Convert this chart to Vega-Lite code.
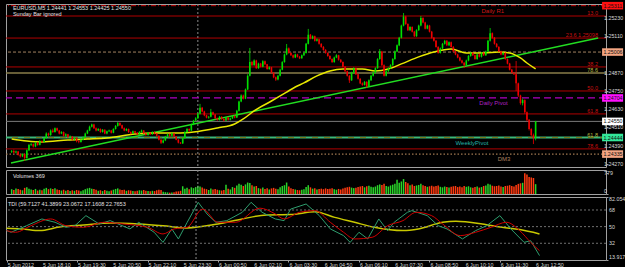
{
"$schema":"https://vega.github.io/schema/vega-lite/v6.json",
"background":"#000000",
"padding":{"left":3,"top":1,"right":0,"bottom":0},
"spacing":1,
"config":{"view":{"stroke":"#a0a0a0","strokeWidth":1},"font":"Liberation Sans","text":{"font":"Liberation Sans","fontSize":5.5}},
"datasets":{
"bars":[
{"i":0,"o":1.24350,"h":1.24362,"l":1.24342,"c":1.24355,"v":180},
{"i":1,"o":1.24355,"h":1.24365,"l":1.24338,"c":1.24345,"v":150},
{"i":2,"o":1.24345,"h":1.24358,"l":1.24340,"c":1.24352,"v":210},
{"i":3,"o":1.24352,"h":1.24356,"l":1.24325,"c":1.24330,"v":190},
{"i":4,"o":1.24330,"h":1.24336,"l":1.24312,"c":1.24320,"v":160},
{"i":5,"o":1.24320,"h":1.24340,"l":1.24315,"c":1.24335,"v":140},
{"i":6,"o":1.24335,"h":1.24338,"l":1.24290,"c":1.24310,"v":230},
{"i":7,"o":1.24310,"h":1.24366,"l":1.24305,"c":1.24360,"v":250},
{"i":8,"o":1.24360,"h":1.24402,"l":1.24355,"c":1.24395,"v":200},
{"i":9,"o":1.24395,"h":1.24410,"l":1.24388,"c":1.24400,"v":170},
{"i":10,"o":1.24400,"h":1.24405,"l":1.24378,"c":1.24385,"v":150},
{"i":11,"o":1.24385,"h":1.24416,"l":1.24380,"c":1.24410,"v":190},
{"i":12,"o":1.24410,"h":1.24415,"l":1.24390,"c":1.24395,"v":130},
{"i":13,"o":1.24395,"h":1.24428,"l":1.24392,"c":1.24420,"v":160},
{"i":14,"o":1.24420,"h":1.24426,"l":1.24408,"c":1.24415,"v":140},
{"i":15,"o":1.24415,"h":1.24446,"l":1.24410,"c":1.24440,"v":200},
{"i":16,"o":1.24440,"h":1.24478,"l":1.24436,"c":1.24470,"v":230},
{"i":17,"o":1.24470,"h":1.24476,"l":1.24452,"c":1.24460,"v":180},
{"i":18,"o":1.24460,"h":1.24497,"l":1.24455,"c":1.24490,"v":210},
{"i":19,"o":1.24490,"h":1.24502,"l":1.24474,"c":1.24480,"v":190},
{"i":20,"o":1.24480,"h":1.24510,"l":1.24476,"c":1.24505,"v":220},
{"i":21,"o":1.24505,"h":1.24509,"l":1.24484,"c":1.24490,"v":170},
{"i":22,"o":1.24490,"h":1.24494,"l":1.24464,"c":1.24470,"v":150},
{"i":23,"o":1.24470,"h":1.24486,"l":1.24466,"c":1.24480,"v":130},
{"i":24,"o":1.24480,"h":1.24484,"l":1.24450,"c":1.24455,"v":160},
{"i":25,"o":1.24455,"h":1.24472,"l":1.24450,"c":1.24465,"v":120},
{"i":26,"o":1.24465,"h":1.24468,"l":1.24440,"c":1.24445,"v":150},
{"i":27,"o":1.24445,"h":1.24458,"l":1.24438,"c":1.24450,"v":110},
{"i":28,"o":1.24450,"h":1.24454,"l":1.24424,"c":1.24430,"v":140},
{"i":29,"o":1.24430,"h":1.24446,"l":1.24426,"c":1.24440,"v":120},
{"i":30,"o":1.24440,"h":1.24444,"l":1.24412,"c":1.24420,"v":150},
{"i":31,"o":1.24420,"h":1.24425,"l":1.24406,"c":1.24415,"v":130},
{"i":32,"o":1.24415,"h":1.24436,"l":1.24410,"c":1.24430,"v":100},
{"i":33,"o":1.24430,"h":1.24450,"l":1.24426,"c":1.24445,"v":140},
{"i":34,"o":1.24445,"h":1.24476,"l":1.24440,"c":1.24470,"v":180},
{"i":35,"o":1.24470,"h":1.24495,"l":1.24466,"c":1.24490,"v":210},
{"i":36,"o":1.24490,"h":1.24522,"l":1.24486,"c":1.24515,"v":230},
{"i":37,"o":1.24515,"h":1.24535,"l":1.24510,"c":1.24530,"v":200},
{"i":38,"o":1.24530,"h":1.24534,"l":1.24500,"c":1.24505,"v":190},
{"i":39,"o":1.24505,"h":1.24510,"l":1.24484,"c":1.24490,"v":160},
{"i":40,"o":1.24490,"h":1.24506,"l":1.24486,"c":1.24500,"v":120},
{"i":41,"o":1.24500,"h":1.24504,"l":1.24474,"c":1.24480,"v":140},
{"i":42,"o":1.24480,"h":1.24500,"l":1.24476,"c":1.24495,"v":110},
{"i":43,"o":1.24495,"h":1.24498,"l":1.24466,"c":1.24470,"v":150},
{"i":44,"o":1.24470,"h":1.24490,"l":1.24465,"c":1.24485,"v":120},
{"i":45,"o":1.24485,"h":1.24496,"l":1.24480,"c":1.24490,"v":100},
{"i":46,"o":1.24490,"h":1.24494,"l":1.24470,"c":1.24475,"v":130},
{"i":47,"o":1.24475,"h":1.24505,"l":1.24472,"c":1.24500,"v":160},
{"i":48,"o":1.24500,"h":1.24526,"l":1.24496,"c":1.24520,"v":190},
{"i":49,"o":1.24520,"h":1.24546,"l":1.24515,"c":1.24540,"v":210},
{"i":50,"o":1.24540,"h":1.24544,"l":1.24520,"c":1.24525,"v":170},
{"i":51,"o":1.24525,"h":1.24528,"l":1.24500,"c":1.24505,"v":150},
{"i":52,"o":1.24505,"h":1.24510,"l":1.24485,"c":1.24490,"v":160},
{"i":53,"o":1.24490,"h":1.24505,"l":1.24486,"c":1.24500,"v":120},
{"i":54,"o":1.24500,"h":1.24503,"l":1.24474,"c":1.24480,"v":140},
{"i":55,"o":1.24480,"h":1.24484,"l":1.24465,"c":1.24470,"v":130},
{"i":56,"o":1.24470,"h":1.24490,"l":1.24466,"c":1.24485,"v":110},
{"i":57,"o":1.24485,"h":1.24488,"l":1.24470,"c":1.24475,"v":100},
{"i":58,"o":1.24475,"h":1.24480,"l":1.24460,"c":1.24465,"v":120},
{"i":59,"o":1.24465,"h":1.24486,"l":1.24462,"c":1.24480,"v":140},
{"i":60,"o":1.24480,"h":1.24496,"l":1.24476,"c":1.24490,"v":130},
{"i":61,"o":1.24490,"h":1.24493,"l":1.24466,"c":1.24470,"v":150},
{"i":62,"o":1.24470,"h":1.24474,"l":1.24455,"c":1.24460,"v":120},
{"i":63,"o":1.24460,"h":1.24480,"l":1.24456,"c":1.24475,"v":110},
{"i":64,"o":1.24475,"h":1.24478,"l":1.24460,"c":1.24465,"v":100},
{"i":65,"o":1.24465,"h":1.24485,"l":1.24462,"c":1.24480,"v":120},
{"i":66,"o":1.24480,"h":1.24484,"l":1.24465,"c":1.24470,"v":110},
{"i":67,"o":1.24470,"h":1.24474,"l":1.24450,"c":1.24455,"v":140},
{"i":68,"o":1.24455,"h":1.24458,"l":1.24425,"c":1.24430,"v":160},
{"i":69,"o":1.24430,"h":1.24434,"l":1.24401,"c":1.24410,"v":150},
{"i":70,"o":1.24410,"h":1.24432,"l":1.24405,"c":1.24425,"v":80},
{"i":71,"o":1.24425,"h":1.24455,"l":1.24420,"c":1.24450,"v":70},
{"i":72,"o":1.24450,"h":1.24470,"l":1.24446,"c":1.24465,"v":60},
{"i":73,"o":1.24465,"h":1.24468,"l":1.24450,"c":1.24455,"v":50},
{"i":74,"o":1.24455,"h":1.24476,"l":1.24452,"c":1.24470,"v":60},
{"i":75,"o":1.24470,"h":1.24472,"l":1.24446,"c":1.24450,"v":70},
{"i":76,"o":1.24450,"h":1.24454,"l":1.24426,"c":1.24430,"v":90},
{"i":77,"o":1.24430,"h":1.24434,"l":1.24405,"c":1.24410,"v":100},
{"i":78,"o":1.24410,"h":1.24414,"l":1.24401,"c":1.24405,"v":120},
{"i":79,"o":1.24405,"h":1.24446,"l":1.24402,"c":1.24440,"v":290},
{"i":80,"o":1.24440,"h":1.24486,"l":1.24436,"c":1.24480,"v":200},
{"i":81,"o":1.24480,"h":1.24506,"l":1.24475,"c":1.24500,"v":230},
{"i":82,"o":1.24500,"h":1.24504,"l":1.24484,"c":1.24490,"v":180},
{"i":83,"o":1.24490,"h":1.24536,"l":1.24486,"c":1.24530,"v":250},
{"i":84,"o":1.24530,"h":1.24560,"l":1.24525,"c":1.24555,"v":220},
{"i":85,"o":1.24555,"h":1.24578,"l":1.24550,"c":1.24570,"v":260},
{"i":86,"o":1.24570,"h":1.24606,"l":1.24565,"c":1.24600,"v":310},
{"i":87,"o":1.24600,"h":1.24665,"l":1.24596,"c":1.24640,"v":280},
{"i":88,"o":1.24640,"h":1.24645,"l":1.24610,"c":1.24615,"v":240},
{"i":89,"o":1.24615,"h":1.24620,"l":1.24584,"c":1.24590,"v":200},
{"i":90,"o":1.24590,"h":1.24594,"l":1.24570,"c":1.24575,"v":180},
{"i":91,"o":1.24575,"h":1.24586,"l":1.24568,"c":1.24580,"v":150},
{"i":92,"o":1.24580,"h":1.24632,"l":1.24576,"c":1.24610,"v":210},
{"i":93,"o":1.24610,"h":1.24614,"l":1.24590,"c":1.24595,"v":170},
{"i":94,"o":1.24595,"h":1.24598,"l":1.24565,"c":1.24570,"v":190},
{"i":95,"o":1.24570,"h":1.24575,"l":1.24554,"c":1.24560,"v":160},
{"i":96,"o":1.24560,"h":1.24586,"l":1.24556,"c":1.24580,"v":140},
{"i":97,"o":1.24580,"h":1.24584,"l":1.24560,"c":1.24565,"v":130},
{"i":98,"o":1.24565,"h":1.24570,"l":1.24550,"c":1.24555,"v":150},
{"i":99,"o":1.24555,"h":1.24580,"l":1.24552,"c":1.24575,"v":350},
{"i":100,"o":1.24575,"h":1.24578,"l":1.24555,"c":1.24560,"v":200},
{"i":101,"o":1.24560,"h":1.24575,"l":1.24556,"c":1.24570,"v":170},
{"i":102,"o":1.24570,"h":1.24590,"l":1.24566,"c":1.24585,"v":260},
{"i":103,"o":1.24585,"h":1.24590,"l":1.24570,"c":1.24575,"v":230},
{"i":104,"o":1.24575,"h":1.24626,"l":1.24572,"c":1.24620,"v":320},
{"i":105,"o":1.24620,"h":1.24686,"l":1.24615,"c":1.24680,"v":380},
{"i":106,"o":1.24680,"h":1.24728,"l":1.24676,"c":1.24720,"v":350},
{"i":107,"o":1.24720,"h":1.24726,"l":1.24694,"c":1.24700,"v":300},
{"i":108,"o":1.24700,"h":1.24766,"l":1.24696,"c":1.24760,"v":360},
{"i":109,"o":1.24760,"h":1.24860,"l":1.24756,"c":1.24850,"v":430},
{"i":110,"o":1.24850,"h":1.25033,"l":1.24846,"c":1.24940,"v":410},
{"i":111,"o":1.24940,"h":1.24948,"l":1.24914,"c":1.24920,"v":330},
{"i":112,"o":1.24920,"h":1.24958,"l":1.24916,"c":1.24950,"v":280},
{"i":113,"o":1.24950,"h":1.24955,"l":1.24895,"c":1.24900,"v":300},
{"i":114,"o":1.24900,"h":1.24936,"l":1.24896,"c":1.24930,"v":220},
{"i":115,"o":1.24930,"h":1.24935,"l":1.24905,"c":1.24910,"v":200},
{"i":116,"o":1.24910,"h":1.24952,"l":1.24906,"c":1.24945,"v":240},
{"i":117,"o":1.24945,"h":1.24950,"l":1.24920,"c":1.24925,"v":190},
{"i":118,"o":1.24925,"h":1.24928,"l":1.24890,"c":1.24895,"v":220},
{"i":119,"o":1.24895,"h":1.24912,"l":1.24890,"c":1.24905,"v":170},
{"i":120,"o":1.24905,"h":1.24908,"l":1.24864,"c":1.24870,"v":210},
{"i":121,"o":1.24870,"h":1.24874,"l":1.24834,"c":1.24840,"v":230},
{"i":122,"o":1.24840,"h":1.24845,"l":1.24816,"c":1.24825,"v":200},
{"i":123,"o":1.24825,"h":1.24856,"l":1.24820,"c":1.24850,"v":180},
{"i":124,"o":1.24850,"h":1.24896,"l":1.24846,"c":1.24890,"v":250},
{"i":125,"o":1.24890,"h":1.24946,"l":1.24886,"c":1.24940,"v":300},
{"i":126,"o":1.24940,"h":1.24996,"l":1.24936,"c":1.24990,"v":330},
{"i":127,"o":1.24990,"h":1.25059,"l":1.24985,"c":1.25030,"v":430},
{"i":128,"o":1.25030,"h":1.25036,"l":1.24995,"c":1.25000,"v":280},
{"i":129,"o":1.25000,"h":1.25005,"l":1.24980,"c":1.24985,"v":220},
{"i":130,"o":1.24985,"h":1.24990,"l":1.24964,"c":1.24970,"v":190},
{"i":131,"o":1.24970,"h":1.24996,"l":1.24966,"c":1.24990,"v":170},
{"i":132,"o":1.24990,"h":1.24994,"l":1.24970,"c":1.24975,"v":150},
{"i":133,"o":1.24975,"h":1.24980,"l":1.24960,"c":1.24965,"v":140},
{"i":134,"o":1.24965,"h":1.24990,"l":1.24962,"c":1.24985,"v":160},
{"i":135,"o":1.24985,"h":1.25006,"l":1.24980,"c":1.25000,"v":180},
{"i":136,"o":1.25000,"h":1.25066,"l":1.24996,"c":1.25060,"v":260},
{"i":137,"o":1.25060,"h":1.25158,"l":1.25056,"c":1.25120,"v":330},
{"i":138,"o":1.25120,"h":1.25125,"l":1.25090,"c":1.25095,"v":250},
{"i":139,"o":1.25095,"h":1.25116,"l":1.25090,"c":1.25110,"v":200},
{"i":140,"o":1.25110,"h":1.25114,"l":1.25075,"c":1.25080,"v":220},
{"i":141,"o":1.25080,"h":1.25096,"l":1.25075,"c":1.25090,"v":170},
{"i":142,"o":1.25090,"h":1.25094,"l":1.25055,"c":1.25060,"v":190},
{"i":143,"o":1.25060,"h":1.25064,"l":1.25034,"c":1.25040,"v":200},
{"i":144,"o":1.25040,"h":1.25045,"l":1.25015,"c":1.25020,"v":180},
{"i":145,"o":1.25020,"h":1.25025,"l":1.24995,"c":1.25000,"v":210},
{"i":146,"o":1.25000,"h":1.25004,"l":1.24975,"c":1.24980,"v":190},
{"i":147,"o":1.24980,"h":1.24985,"l":1.24955,"c":1.24960,"v":200},
{"i":148,"o":1.24960,"h":1.24965,"l":1.24934,"c":1.24940,"v":220},
{"i":149,"o":1.24940,"h":1.24976,"l":1.24936,"c":1.24970,"v":180},
{"i":150,"o":1.24970,"h":1.24992,"l":1.24966,"c":1.24985,"v":160},
{"i":151,"o":1.24985,"h":1.24988,"l":1.24950,"c":1.24955,"v":190},
{"i":152,"o":1.24955,"h":1.24960,"l":1.24935,"c":1.24940,"v":170},
{"i":153,"o":1.24940,"h":1.24944,"l":1.24905,"c":1.24910,"v":210},
{"i":154,"o":1.24910,"h":1.24914,"l":1.24875,"c":1.24880,"v":230},
{"i":155,"o":1.24880,"h":1.24884,"l":1.24845,"c":1.24850,"v":250},
{"i":156,"o":1.24850,"h":1.24854,"l":1.24803,"c":1.24820,"v":270},
{"i":157,"o":1.24820,"h":1.24876,"l":1.24816,"c":1.24870,"v":240},
{"i":158,"o":1.24870,"h":1.24906,"l":1.24865,"c":1.24900,"v":220},
{"i":159,"o":1.24900,"h":1.24904,"l":1.24855,"c":1.24860,"v":230},
{"i":160,"o":1.24860,"h":1.24864,"l":1.24825,"c":1.24830,"v":260},
{"i":161,"o":1.24830,"h":1.24834,"l":1.24795,"c":1.24800,"v":280},
{"i":162,"o":1.24800,"h":1.24806,"l":1.24784,"c":1.24790,"v":300},
{"i":163,"o":1.24790,"h":1.24816,"l":1.24786,"c":1.24810,"v":250},
{"i":164,"o":1.24810,"h":1.24814,"l":1.24770,"c":1.24780,"v":290},
{"i":165,"o":1.24780,"h":1.24826,"l":1.24776,"c":1.24820,"v":310},
{"i":166,"o":1.24820,"h":1.24856,"l":1.24815,"c":1.24850,"v":270},
{"i":167,"o":1.24850,"h":1.24876,"l":1.24845,"c":1.24870,"v":250},
{"i":168,"o":1.24870,"h":1.24906,"l":1.24865,"c":1.24900,"v":280},
{"i":169,"o":1.24900,"h":1.24966,"l":1.24896,"c":1.24960,"v":330},
{"i":170,"o":1.24960,"h":1.25026,"l":1.24955,"c":1.25010,"v":360},
{"i":171,"o":1.25010,"h":1.25014,"l":1.24915,"c":1.24920,"v":340},
{"i":172,"o":1.24920,"h":1.24925,"l":1.24845,"c":1.24850,"v":380},
{"i":173,"o":1.24850,"h":1.24886,"l":1.24846,"c":1.24880,"v":300},
{"i":174,"o":1.24880,"h":1.24906,"l":1.24875,"c":1.24900,"v":280},
{"i":175,"o":1.24900,"h":1.24926,"l":1.24896,"c":1.24920,"v":320},
{"i":176,"o":1.24920,"h":1.24966,"l":1.24915,"c":1.24960,"v":350},
{"i":177,"o":1.24960,"h":1.25016,"l":1.24955,"c":1.25010,"v":380},
{"i":178,"o":1.25010,"h":1.25056,"l":1.25005,"c":1.25050,"v":530},
{"i":179,"o":1.25050,"h":1.25106,"l":1.25045,"c":1.25100,"v":420},
{"i":180,"o":1.25100,"h":1.25186,"l":1.25095,"c":1.25180,"v":470},
{"i":181,"o":1.25180,"h":1.25263,"l":1.25175,"c":1.25240,"v":560},
{"i":182,"o":1.25240,"h":1.25245,"l":1.25185,"c":1.25190,"v":450},
{"i":183,"o":1.25190,"h":1.25195,"l":1.25145,"c":1.25150,"v":400},
{"i":184,"o":1.25150,"h":1.25176,"l":1.25145,"c":1.25170,"v":330},
{"i":185,"o":1.25170,"h":1.25175,"l":1.25135,"c":1.25140,"v":360},
{"i":186,"o":1.25140,"h":1.25145,"l":1.25105,"c":1.25110,"v":300},
{"i":187,"o":1.25110,"h":1.25156,"l":1.25106,"c":1.25150,"v":320},
{"i":188,"o":1.25150,"h":1.25186,"l":1.25145,"c":1.25180,"v":340},
{"i":189,"o":1.25180,"h":1.25243,"l":1.25175,"c":1.25230,"v":380},
{"i":190,"o":1.25230,"h":1.25235,"l":1.25195,"c":1.25200,"v":330},
{"i":191,"o":1.25200,"h":1.25205,"l":1.25155,"c":1.25160,"v":300},
{"i":192,"o":1.25160,"h":1.25186,"l":1.25156,"c":1.25180,"v":270},
{"i":193,"o":1.25180,"h":1.25185,"l":1.25135,"c":1.25140,"v":290},
{"i":194,"o":1.25140,"h":1.25145,"l":1.25095,"c":1.25100,"v":310},
{"i":195,"o":1.25100,"h":1.25105,"l":1.25075,"c":1.25080,"v":280},
{"i":196,"o":1.25080,"h":1.25085,"l":1.25035,"c":1.25040,"v":300},
{"i":197,"o":1.25040,"h":1.25045,"l":1.24995,"c":1.25000,"v":320},
{"i":198,"o":1.25000,"h":1.25036,"l":1.24996,"c":1.25030,"v":270},
{"i":199,"o":1.25030,"h":1.25066,"l":1.25025,"c":1.25060,"v":250},
{"i":200,"o":1.25060,"h":1.25086,"l":1.25055,"c":1.25080,"v":280},
{"i":201,"o":1.25080,"h":1.25085,"l":1.25045,"c":1.25050,"v":260},
{"i":202,"o":1.25050,"h":1.25076,"l":1.25045,"c":1.25070,"v":240},
{"i":203,"o":1.25070,"h":1.25075,"l":1.25035,"c":1.25040,"v":270},
{"i":204,"o":1.25040,"h":1.25045,"l":1.25005,"c":1.25010,"v":290},
{"i":205,"o":1.25010,"h":1.25015,"l":1.24985,"c":1.24990,"v":300},
{"i":206,"o":1.24990,"h":1.24995,"l":1.24965,"c":1.24970,"v":260},
{"i":207,"o":1.24970,"h":1.24975,"l":1.24945,"c":1.24950,"v":280},
{"i":208,"o":1.24950,"h":1.24955,"l":1.24930,"c":1.24935,"v":250},
{"i":209,"o":1.24935,"h":1.24940,"l":1.24901,"c":1.24920,"v":300},
{"i":210,"o":1.24920,"h":1.24956,"l":1.24915,"c":1.24950,"v":270},
{"i":211,"o":1.24950,"h":1.24986,"l":1.24945,"c":1.24980,"v":290},
{"i":212,"o":1.24980,"h":1.25006,"l":1.24975,"c":1.25000,"v":250},
{"i":213,"o":1.25000,"h":1.25005,"l":1.24980,"c":1.24985,"v":230},
{"i":214,"o":1.24985,"h":1.24990,"l":1.24955,"c":1.24960,"v":260},
{"i":215,"o":1.24960,"h":1.24996,"l":1.24955,"c":1.24990,"v":280},
{"i":216,"o":1.24990,"h":1.24995,"l":1.24970,"c":1.24975,"v":240},
{"i":217,"o":1.24975,"h":1.25006,"l":1.24970,"c":1.25000,"v":260},
{"i":218,"o":1.25000,"h":1.25005,"l":1.24980,"c":1.24985,"v":300},
{"i":219,"o":1.24985,"h":1.25016,"l":1.24980,"c":1.25010,"v":320},
{"i":220,"o":1.25010,"h":1.25086,"l":1.25005,"c":1.25080,"v":380},
{"i":221,"o":1.25080,"h":1.25164,"l":1.25075,"c":1.25130,"v":360},
{"i":222,"o":1.25130,"h":1.25135,"l":1.25095,"c":1.25100,"v":310},
{"i":223,"o":1.25100,"h":1.25105,"l":1.25055,"c":1.25060,"v":290},
{"i":224,"o":1.25060,"h":1.25065,"l":1.25035,"c":1.25040,"v":300},
{"i":225,"o":1.25040,"h":1.25045,"l":1.25005,"c":1.25010,"v":320},
{"i":226,"o":1.25010,"h":1.25015,"l":1.24985,"c":1.24990,"v":280},
{"i":227,"o":1.24990,"h":1.25006,"l":1.24985,"c":1.25000,"v":260},
{"i":228,"o":1.25000,"h":1.25005,"l":1.24955,"c":1.24960,"v":300},
{"i":229,"o":1.24960,"h":1.24965,"l":1.24925,"c":1.24930,"v":310},
{"i":230,"o":1.24930,"h":1.24935,"l":1.24885,"c":1.24890,"v":330},
{"i":231,"o":1.24890,"h":1.24895,"l":1.24865,"c":1.24870,"v":300},
{"i":232,"o":1.24870,"h":1.24875,"l":1.24855,"c":1.24860,"v":280},
{"i":233,"o":1.24860,"h":1.24947,"l":1.24750,"c":1.24800,"v":340},
{"i":234,"o":1.24800,"h":1.24805,"l":1.24710,"c":1.24720,"v":380},
{"i":235,"o":1.24720,"h":1.24725,"l":1.24660,"c":1.24670,"v":400},
{"i":236,"o":1.24670,"h":1.24700,"l":1.24655,"c":1.24690,"v":420},
{"i":237,"o":1.24690,"h":1.24695,"l":1.24600,"c":1.24610,"v":779},
{"i":238,"o":1.24610,"h":1.24615,"l":1.24550,"c":1.24560,"v":730},
{"i":239,"o":1.24560,"h":1.24565,"l":1.24490,"c":1.24500,"v":640},
{"i":240,"o":1.24500,"h":1.24505,"l":1.24450,"c":1.24460,"v":620},
{"i":241,"o":1.24460,"h":1.24470,"l":1.24401,"c":1.24441,"v":600},
{"i":242,"o":1.24441,"h":1.24553,"l":1.24425,"c":1.24550,"v":369}
],
"ma":[{"i":0,"p":1.24434},{"i":7,"p":1.24421},{"i":14,"p":1.24415},{"i":26,"p":1.24428},{"i":35,"p":1.24434},{"i":44,"p":1.24441},{"i":57,"p":1.24467},{"i":66,"p":1.24474},{"i":78,"p":1.24474},{"i":84,"p":1.2448},{"i":95,"p":1.24507},{"i":103,"p":1.24533},{"i":107,"p":1.24566},{"i":112,"p":1.24619},{"i":120,"p":1.24684},{"i":127,"p":1.24743},{"i":131,"p":1.24776},{"i":135,"p":1.24803},{"i":141,"p":1.24849},{"i":147,"p":1.24882},{"i":153,"p":1.24895},{"i":162,"p":1.24895},{"i":168,"p":1.24882},{"i":174,"p":1.24895},{"i":180,"p":1.24928},{"i":188,"p":1.24974},{"i":195,"p":1.25006},{"i":203,"p":1.25026},{"i":210,"p":1.25},{"i":218,"p":1.25},{"i":225,"p":1.25006},{"i":230,"p":1.25},{"i":235,"p":1.24967},{"i":238,"p":1.24934},{"i":242,"p":1.24895}],
"tg":[{"i":0,"v":45.7},{"i":2,"v":43.9},{"i":9,"v":51},{"i":16,"v":58.3},{"i":22,"v":54.7},{"i":27,"v":49.3},{"i":31,"v":51},{"i":36,"v":61.9},{"i":42,"v":52.9},{"i":47,"v":56.5},{"i":56,"v":47.5},{"i":60,"v":54.7},{"i":67,"v":43.9},{"i":71,"v":33},{"i":75,"v":47.5},{"i":78,"v":36.7},{"i":82,"v":54.7},{"i":87,"v":76.3},{"i":91,"v":63.7},{"i":95,"v":54.7},{"i":100,"v":56.5},{"i":107,"v":65.5},{"i":111,"v":76.3},{"i":116,"v":65.5},{"i":122,"v":58.3},{"i":126,"v":56.5},{"i":129,"v":69},{"i":136,"v":74.5},{"i":142,"v":61.9},{"i":147,"v":47.5},{"i":153,"v":40.3},{"i":156,"v":33},{"i":160,"v":43.9},{"i":164,"v":36.7},{"i":169,"v":58.3},{"i":173,"v":45.7},{"i":176,"v":54.7},{"i":182,"v":65.5},{"i":184,"v":67.3},{"i":191,"v":61.9},{"i":196,"v":51},{"i":200,"v":47.5},{"i":207,"v":36.7},{"i":213,"v":45.7},{"i":218,"v":51},{"i":224,"v":61.9},{"i":229,"v":47.5},{"i":235,"v":33},{"i":238,"v":34.8},{"i":242,"v":18.7}],
"tr":[{"i":0,"v":45.7},{"i":4,"v":43.9},{"i":11,"v":51},{"i":20,"v":58.3},{"i":27,"v":51},{"i":35,"v":49.3},{"i":44,"v":54.7},{"i":53,"v":52.9},{"i":64,"v":49.3},{"i":71,"v":42.1},{"i":76,"v":47.5},{"i":82,"v":49.3},{"i":89,"v":69},{"i":96,"v":54.7},{"i":104,"v":54.7},{"i":115,"v":70},{"i":122,"v":63.7},{"i":126,"v":58.3},{"i":133,"v":65.5},{"i":140,"v":67.3},{"i":147,"v":54.7},{"i":153,"v":43.9},{"i":158,"v":36.7},{"i":166,"v":38.5},{"i":173,"v":51},{"i":180,"v":56.5},{"i":186,"v":65.5},{"i":193,"v":61.9},{"i":198,"v":52.9},{"i":206,"v":40.3},{"i":213,"v":43.9},{"i":220,"v":49.3},{"i":227,"v":54.7},{"i":233,"v":45.7},{"i":238,"v":33},{"i":242,"v":24}],
"ty":[{"i":0,"v":48.2},{"i":7,"v":47.5},{"i":15,"v":45.7},{"i":24,"v":49.6},{"i":35,"v":51.8},{"i":47,"v":54},{"i":60,"v":52.9},{"i":71,"v":51},{"i":82,"v":48.6},{"i":96,"v":52.9},{"i":107,"v":58.3},{"i":118,"v":62.6},{"i":129,"v":63},{"i":140,"v":66.2},{"i":149,"v":60},{"i":158,"v":54.7},{"i":167,"v":49.3},{"i":180,"v":45.7},{"i":187,"v":47.5},{"i":198,"v":54.7},{"i":204,"v":55.8},{"i":216,"v":52.9},{"i":225,"v":49.3},{"i":233,"v":46.8},{"i":242,"v":42.1}]
},
"vconcat":[
{"width":600,"height":163,
"resolve":{"scale":{"color":"independent"}},
"layer":[
{"data":{"values":[{"p":1.25243},{"p":1.25098},{"p":1.24908},{"p":1.2475},{"p":1.24599},{"p":1.24369}]},"mark":{"type":"rule","color":"#b00000","strokeWidth":1},"encoding":{"y":{"field":"p","type":"quantitative","scale":{"domain":[1.2425,1.25322],"nice":false,"zero":false},"axis":{"orient":"right","title":null,"values":[1.2427,1.2439,1.2451,1.2463,1.2475,1.2487,1.2511,1.2523],"labels":false,"tickColor":"#a0a0a0","tickSize":2,"grid":false,"domain":false}}}},
{"data":{"values":[{"i":86}]},"mark":{"type":"rule","color":"#8a8a8a","strokeDash":[2,2],"strokeWidth":1},"encoding":{"x":{"field":"i","type":"quantitative","scale":{"domain":[-0.3,272.2],"nice":false,"zero":false},"axis":null}}},
{"data":{"values":[{"p":1.25311}]},"mark":{"type":"rule","color":"#c80000","strokeDash":[5,2,1,2],"strokeWidth":1},"encoding":{"y":{"field":"p","type":"quantitative","scale":{"domain":[1.2425,1.25322],"nice":false,"zero":false}}}},
{"data":{"values":[{"p":1.24868}]},"mark":{"type":"rule","color":"#8a7e4a","strokeWidth":1.5},"encoding":{"y":{"field":"p","type":"quantitative","scale":{"domain":[1.2425,1.25322],"nice":false,"zero":false}}}},
{"data":{"values":[{"p":1.25006}]},"mark":{"type":"rule","color":"#a08060","strokeDash":[3,2],"strokeWidth":1},"encoding":{"y":{"field":"p","type":"quantitative","scale":{"domain":[1.2425,1.25322],"nice":false,"zero":false}}}},
{"data":{"values":[{"p":1.24704}]},"mark":{"type":"rule","color":"#b000c0","strokeDash":[7,4],"strokeWidth":1.2},"encoding":{"y":{"field":"p","type":"quantitative","scale":{"domain":[1.2425,1.25322],"nice":false,"zero":false}}}},
{"data":{"values":[{"p":1.2455}]},"mark":{"type":"rule","color":"#7a7a7a","strokeWidth":1},"encoding":{"y":{"field":"p","type":"quantitative","scale":{"domain":[1.2425,1.25322],"nice":false,"zero":false}}}},
{"data":{"values":[{"p":1.24444}]},"mark":{"type":"rule","color":"#3cb878","strokeWidth":2},"encoding":{"y":{"field":"p","type":"quantitative","scale":{"domain":[1.2425,1.25322],"nice":false,"zero":false}}}},
{"data":{"values":[{"p":1.24444}]},"mark":{"type":"rule","color":"#7a7a20","strokeDash":[6,6],"strokeWidth":1},"encoding":{"y":{"field":"p","type":"quantitative","scale":{"domain":[1.2425,1.25322],"nice":false,"zero":false}}}},
{"data":{"values":[{"p":1.24335}]},"mark":{"type":"rule","color":"#a07850","strokeDash":[1.5,2],"strokeWidth":1.2},"encoding":{"y":{"field":"p","type":"quantitative","scale":{"domain":[1.2425,1.25322],"nice":false,"zero":false}}}},
{"data":{"values":[{"i":-0.3,"p":1.24277},{"i":270.9,"p":1.25098}]},"mark":{"type":"line","color":"#22dd22","strokeWidth":1.5},"encoding":{"x":{"field":"i","type":"quantitative","scale":{"domain":[-0.3,272.2],"nice":false,"zero":false},"axis":null},"y":{"field":"p","type":"quantitative","scale":{"domain":[1.2425,1.25322],"nice":false,"zero":false}}}},
{"data":{"name":"ma"},"mark":{"type":"line","color":"#e8e800","strokeWidth":1.5,"interpolate":"monotone"},"encoding":{"x":{"field":"i","type":"quantitative","scale":{"domain":[-0.3,272.2],"nice":false,"zero":false},"axis":null},"y":{"field":"p","type":"quantitative","scale":{"domain":[1.2425,1.25322],"nice":false,"zero":false}}}},
{"data":{"name":"bars"},"mark":{"type":"rule","strokeWidth":0.8},"encoding":{"x":{"field":"i","type":"quantitative","scale":{"domain":[-0.3,272.2],"nice":false,"zero":false},"axis":null},"y":{"field":"l","type":"quantitative","scale":{"domain":[1.2425,1.25322],"nice":false,"zero":false}},"y2":{"field":"h"},"color":{"condition":{"test":"datum.c >= datum.o","value":"#00e000"},"value":"#f00000"}}},
{"data":{"name":"bars"},"mark":{"type":"bar","size":1.6},"encoding":{"x":{"field":"i","type":"quantitative","scale":{"domain":[-0.3,272.2],"nice":false,"zero":false},"axis":null},"y":{"field":"o","type":"quantitative","scale":{"domain":[1.2425,1.25322],"nice":false,"zero":false}},"y2":{"field":"c"},"color":{"condition":{"test":"datum.c >= datum.o","value":"#00e000"},"value":"#f00000"}}},
{"data":{"values":[{"p":1.25243,"t":"13.0"},{"p":1.25098,"t":"23.6 1.25098"},{"p":1.24908,"t":"38.2"},{"p":1.2475,"t":"50.0"},{"p":1.24599,"t":"61.8"},{"p":1.24369,"t":"78.6"}]},"mark":{"type":"text","align":"right","baseline":"bottom","color":"#c81010"},"encoding":{"x":{"datum":270.8,"type":"quantitative","scale":{"domain":[-0.3,272.2],"nice":false,"zero":false},"axis":null},"y":{"field":"p","type":"quantitative","scale":{"domain":[1.2425,1.25322],"nice":false,"zero":false}},"text":{"field":"t"}}},
{"data":{"values":[{"p":1.24868,"t":"78.6"},{"p":1.24444,"t":"61.8"}]},"mark":{"type":"text","align":"right","baseline":"bottom","color":"#b8b840"},"encoding":{"x":{"datum":270.8,"type":"quantitative","scale":{"domain":[-0.3,272.2],"nice":false,"zero":false},"axis":null},"y":{"field":"p","type":"quantitative","scale":{"domain":[1.2425,1.25322],"nice":false,"zero":false}},"text":{"field":"t"}}},
{"data":{"values":[{"i":217,"p":1.25311,"t":"Daily R1"},{"i":216,"p":1.24704,"t":"Daily Pivot"},{"i":205,"p":1.24444,"t":"WeeklyPivot"},{"i":224.5,"p":1.24335,"t":"DM3"}]},"mark":{"type":"text","align":"left","baseline":"top","dy":2,"fontSize":6},"encoding":{"x":{"field":"i","type":"quantitative","scale":{"domain":[-0.3,272.2],"nice":false,"zero":false},"axis":null},"y":{"field":"p","type":"quantitative","scale":{"domain":[1.2425,1.25322],"nice":false,"zero":false}},"text":{"field":"t"},"color":{"field":"t","type":"nominal","scale":{"domain":["Daily R1","Daily Pivot","WeeklyPivot","DM3"],"range":["#d01818","#b020c0","#20b0a8","#b08060"]},"legend":null}}},
{"data":{"values":[{"i":0.6,"p":1.25296,"t":"EURUSD,M5  1.24441 1.24553 1.24425 1.24550"},{"i":0.6,"p":1.25256,"t":"Sunday Bar ignored"}]},"mark":{"type":"text","align":"left","baseline":"middle","color":"#e0e0e0"},"encoding":{"x":{"field":"i","type":"quantitative","scale":{"domain":[-0.3,272.2],"nice":false,"zero":false},"axis":null},"y":{"field":"p","type":"quantitative","scale":{"domain":[1.2425,1.25322],"nice":false,"zero":false}},"text":{"field":"t"}}},
{"data":{"values":[{"p":1.2523,"t":"1.25230"},{"p":1.2511,"t":"1.25110"},{"p":1.2487,"t":"1.24870"},{"p":1.2475,"t":"1.24750"},{"p":1.2463,"t":"1.24630"},{"p":1.2451,"t":"1.24510"},{"p":1.2439,"t":"1.24390"},{"p":1.2427,"t":"1.24270"}]},"mark":{"type":"text","align":"left","baseline":"middle","color":"#d8d8d8","fontSize":5.3},"encoding":{"x":{"datum":273.6,"type":"quantitative","scale":{"domain":[-0.3,272.2],"nice":false,"zero":false},"axis":null},"y":{"field":"p","type":"quantitative","scale":{"domain":[1.2425,1.25322],"nice":false,"zero":false}},"text":{"field":"t"}}},
{"data":{"values":[{"p":1.25311,"k":"R1"},{"p":1.25006,"k":"PP"},{"p":1.24704,"k":"DP"},{"p":1.2455,"k":"BID"},{"p":1.24444,"k":"WP"},{"p":1.24335,"k":"DM3"}]},"mark":{"type":"point","shape":"M0,-0.36H2V0.36H0Z","size":441,"filled":true,"opacity":1,"strokeWidth":0},"encoding":{"x":{"datum":272.7,"type":"quantitative","scale":{"domain":[-0.3,272.2],"nice":false,"zero":false},"axis":null},"y":{"field":"p","type":"quantitative","scale":{"domain":[1.2425,1.25322],"nice":false,"zero":false}},"fill":{"field":"k","type":"nominal","scale":{"domain":["R1","PP","DP","BID","WP","DM3"],"range":["#ff1010","#f4a582","#ff10ff","#ffffff","#33e89a","#f4a582"]},"legend":null}}},
{"data":{"values":[{"p":1.25311,"t":"1.25311"},{"p":1.25006,"t":"1.25006"},{"p":1.24704,"t":"1.24704"},{"p":1.2455,"t":"1.24550"},{"p":1.24444,"t":"1.24444"},{"p":1.24335,"t":"1.24335"}]},"mark":{"type":"text","align":"left","baseline":"middle","color":"#101010","fontSize":5.3},"encoding":{"x":{"datum":273.3,"type":"quantitative","scale":{"domain":[-0.3,272.2],"nice":false,"zero":false},"axis":null},"y":{"field":"p","type":"quantitative","scale":{"domain":[1.2425,1.25322],"nice":false,"zero":false}},"text":{"field":"t"}}}
]},
{"width":600,"height":24,
"layer":[
{"data":{"name":"bars"},"mark":{"type":"bar","size":1.5},"encoding":{"x":{"field":"i","type":"quantitative","scale":{"domain":[-0.3,272.2],"nice":false,"zero":false},"axis":null},"y":{"field":"v","type":"quantitative","scale":{"domain":[0,900],"nice":false},"axis":{"orient":"right","title":null,"values":[0,779],"labels":false,"tickColor":"#a0a0a0","tickSize":2,"grid":false,"domain":false}},"color":{"condition":{"test":"datum.c >= datum.o","value":"#2ad42a"},"value":"#ff3a10"}}},
{"data":{"values":[{"i":86}]},"mark":{"type":"rule","color":"#8a8a8a","strokeDash":[2,2],"strokeWidth":1},"encoding":{"x":{"field":"i","type":"quantitative","scale":{"domain":[-0.3,272.2],"nice":false,"zero":false},"axis":null}}},
{"data":{"values":[{"i":0.6,"v":675,"t":"Volumes 369"}]},"mark":{"type":"text","align":"left","baseline":"middle","color":"#e0e0e0"},"encoding":{"x":{"field":"i","type":"quantitative","scale":{"domain":[-0.3,272.2],"nice":false,"zero":false},"axis":null},"y":{"field":"v","type":"quantitative","scale":{"domain":[0,900],"nice":false}},"text":{"field":"t"}}},
{"data":{"values":[{"v":779,"t":"779"}]},"mark":{"type":"text","align":"left","baseline":"middle","color":"#d8d8d8","fontSize":5.3},"encoding":{"x":{"datum":273.6,"type":"quantitative","scale":{"domain":[-0.3,272.2],"nice":false,"zero":false},"axis":null},"y":{"field":"v","type":"quantitative","scale":{"domain":[0,900],"nice":false}},"text":{"field":"t"}}},
{"data":{"values":[{"v":0,"t":"0"}]},"mark":{"type":"text","align":"left","baseline":"bottom","color":"#d8d8d8","fontSize":5.3},"encoding":{"x":{"datum":273.6,"type":"quantitative","scale":{"domain":[-0.3,272.2],"nice":false,"zero":false},"axis":null},"y":{"field":"v","type":"quantitative","scale":{"domain":[0,900],"nice":false}},"text":{"field":"t"}}}
]},
{"width":600,"height":63,
"layer":[
{"data":{"name":"ty"},"mark":{"type":"line","color":"#c8c800","strokeWidth":1.5,"interpolate":"monotone"},"encoding":{"x":{"field":"i","type":"quantitative","scale":{"domain":[-0.3,272.2],"nice":false,"zero":false},"axis":{"orient":"bottom","title":null,"values":[0,16,32,48,64,80,96,112,128,144,160,176,192,208,224,240],"labels":false,"tickColor":"#a0a0a0","tickSize":2,"grid":false,"domain":false}},"y":{"field":"v","type":"quantitative","scale":{"domain":[13.9173,82.0548],"nice":false,"zero":false},"axis":{"orient":"right","title":null,"values":[13.9173,32,50,68,82.0548],"labels":false,"tickColor":"#a0a0a0","tickSize":2,"grid":false,"domain":false}}}},
{"data":{"values":[{"i":86}]},"mark":{"type":"rule","color":"#8a8a8a","strokeDash":[2,2],"strokeWidth":1},"encoding":{"x":{"field":"i","type":"quantitative","scale":{"domain":[-0.3,272.2],"nice":false,"zero":false}}}},
{"data":{"values":[{"v":68},{"v":50},{"v":32}]},"mark":{"type":"rule","color":"#707070","strokeDash":[2,2],"strokeWidth":1},"encoding":{"y":{"field":"v","type":"quantitative","scale":{"domain":[13.9173,82.0548],"nice":false,"zero":false}}}},
{"data":{"name":"tg"},"mark":{"type":"line","color":"#2e9e6e","strokeWidth":1},"encoding":{"x":{"field":"i","type":"quantitative","scale":{"domain":[-0.3,272.2],"nice":false,"zero":false}},"y":{"field":"v","type":"quantitative","scale":{"domain":[13.9173,82.0548],"nice":false,"zero":false}}}},
{"data":{"name":"tr"},"mark":{"type":"line","color":"#d00000","strokeWidth":1,"interpolate":"monotone"},"encoding":{"x":{"field":"i","type":"quantitative","scale":{"domain":[-0.3,272.2],"nice":false,"zero":false}},"y":{"field":"v","type":"quantitative","scale":{"domain":[13.9173,82.0548],"nice":false,"zero":false}}}},
{"data":{"values":[{"i":0.6,"v":74.5,"t":"TDI (59.7127 41.3899 23.0672 17.1608 22.7653"}]},"mark":{"type":"text","align":"left","baseline":"middle","color":"#e0e0e0"},"encoding":{"x":{"field":"i","type":"quantitative","scale":{"domain":[-0.3,272.2],"nice":false,"zero":false}},"y":{"field":"v","type":"quantitative","scale":{"domain":[13.9173,82.0548],"nice":false,"zero":false}},"text":{"field":"t"}}},
{"data":{"values":[{"v":82.0548,"t":"82.0548"}]},"mark":{"type":"text","align":"left","baseline":"top","color":"#d8d8d8","fontSize":5.3},"encoding":{"x":{"datum":273.6,"type":"quantitative","scale":{"domain":[-0.3,272.2],"nice":false,"zero":false}},"y":{"field":"v","type":"quantitative","scale":{"domain":[13.9173,82.0548],"nice":false,"zero":false}},"text":{"field":"t"}}},
{"data":{"values":[{"v":68,"t":"68"},{"v":50,"t":"50"},{"v":32,"t":"32"}]},"mark":{"type":"text","align":"left","baseline":"middle","color":"#d8d8d8","fontSize":5.3},"encoding":{"x":{"datum":273.6,"type":"quantitative","scale":{"domain":[-0.3,272.2],"nice":false,"zero":false}},"y":{"field":"v","type":"quantitative","scale":{"domain":[13.9173,82.0548],"nice":false,"zero":false}},"text":{"field":"t"}}},
{"data":{"values":[{"v":13.9173,"t":"13.9173"}]},"mark":{"type":"text","align":"left","baseline":"bottom","color":"#d8d8d8","fontSize":5.3},"encoding":{"x":{"datum":273.6,"type":"quantitative","scale":{"domain":[-0.3,272.2],"nice":false,"zero":false}},"y":{"field":"v","type":"quantitative","scale":{"domain":[13.9173,82.0548],"nice":false,"zero":false}},"text":{"field":"t"}}},
{"data":{"values":[{"i":0,"t":"5 Jun 2012"},{"i":16,"t":"5 Jun 18:10"},{"i":32,"t":"5 Jun 19:30"},{"i":48,"t":"5 Jun 20:50"},{"i":64,"t":"5 Jun 22:10"},{"i":80,"t":"5 Jun 23:30"},{"i":96,"t":"6 Jun 00:50"},{"i":112,"t":"6 Jun 02:10"},{"i":128,"t":"6 Jun 03:30"},{"i":144,"t":"6 Jun 04:50"},{"i":160,"t":"6 Jun 06:10"},{"i":176,"t":"6 Jun 07:30"},{"i":192,"t":"6 Jun 08:50"},{"i":208,"t":"6 Jun 10:10"},{"i":224,"t":"6 Jun 11:30"},{"i":240,"t":"6 Jun 12:50"}]},"mark":{"type":"text","align":"left","baseline":"middle","color":"#d8d8d8","fontSize":5.3,"dx":1},"encoding":{"x":{"field":"i","type":"quantitative","scale":{"domain":[-0.3,272.2],"nice":false,"zero":false}},"y":{"datum":8.6,"type":"quantitative","scale":{"domain":[13.9173,82.0548],"nice":false,"zero":false}},"text":{"field":"t"}}}
]}
]
}
